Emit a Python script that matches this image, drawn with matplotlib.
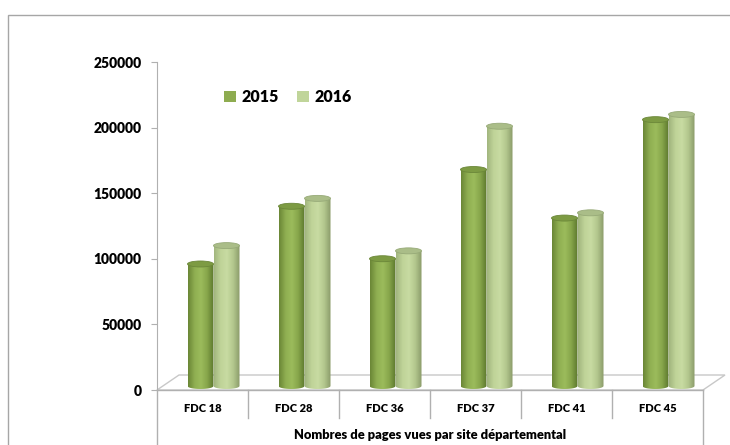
import numpy as np
import matplotlib.pyplot as plt
from matplotlib.patches import Ellipse, Polygon, Rectangle, Patch
from matplotlib.colors import LinearSegmentedColormap
import matplotlib.transforms as mtransforms

plt.rcParams['font.family'] = ['Lato', 'DejaVu Sans']
plt.rcParams['font.weight'] = 'heavy'

# data
categories = ["FDC 18", "FDC 28", "FDC 36", "FDC 37", "FDC 41", "FDC 45"]
years = ["2015", "2016"]
v2015 = [93000, 137000, 97000, 165000, 128000, 203000]
v2016 = [107000, 143000, 103000, 198000, 132000, 207000]
xlabel = "Nombres de pages vues par site départemental"

# layout in pixels
W, H = 730, 445
fig = plt.figure(figsize=(W / 100, H / 100), dpi=100)
ax_l, ax_r, ax_b, ax_t = 157, 703, 390, 62
ax = fig.add_axes([ax_l / W, (H - ax_b) / H, (ax_r - ax_l) / W, (ax_b - ax_t) / H])

ymax = 250000
px = ymax / (ax_b - ax_t)          # value units per pixel
cat_px = (ax_r - ax_l) / len(categories)
base = 4 * px                      # bars stand a bit behind the front edge
bar_w = 26 / cat_px
shift = 11 / cat_px

grad = {
    "2015": LinearSegmentedColormap.from_list("g1", ["#6a8636", "#8fae51", "#9cbc5c", "#86a54a", "#5c772d"]),
    "2016": LinearSegmentedColormap.from_list("g2", ["#a2b67e", "#bfd398", "#c8dba2", "#b3c78d", "#8a9b6a"]),
}
top_col = {"2015": "#7d9b43", "2016": "#aabd88"}
rim_col = {"2015": "#6b8739", "2016": "#97aa78"}
gradient = np.linspace(0, 1, 64).reshape(1, -1)

# floor
dx, dy = 22 / cat_px, 15 * px
floor = Polygon([(-0.5, 0), (-0.5 + dx, dy), (5.5 + dx, dy), (5.5, 0)],
                closed=True, facecolor="white", edgecolor="#c8c8c8", lw=1, clip_on=False, zorder=1)
ax.add_patch(floor)

eh = 6 * px
for j, (yr, vals) in enumerate([("2015", v2015), ("2016", v2016)]):
    for i, v in enumerate(vals):
        x0 = i + shift - bar_w + j * bar_w
        x1 = x0 + bar_w
        top = base + v
        im = ax.imshow(gradient, cmap=grad[yr], aspect="auto", extent=[x0, x1, base - eh / 2, top],
                       zorder=3 + j, interpolation="bilinear")
        verts = [(x0, top), (x0, base)]
        t = np.linspace(np.pi, 2 * np.pi, 20)
        verts += [((x0 + x1) / 2 + bar_w / 2 * np.cos(a), base + eh / 2 * np.sin(a)) for a in t]
        verts += [(x1, top), (x0, top)]
        clip = Polygon(verts, closed=True, transform=ax.transData, facecolor="none", edgecolor="none")
        ax.add_patch(clip)
        im.set_clip_path(clip)
        ax.add_patch(Ellipse(((x0 + x1) / 2, top), bar_w, eh, facecolor=top_col[yr],
                             edgecolor=rim_col[yr], lw=0.6, zorder=3 + j))

ax.set_xlim(-0.5, 5.5)
ax.set_ylim(0, ymax)
ax.set_yticks(np.arange(0, 250001, 50000))
ax.tick_params(axis="y", direction="out", length=4, color="#b0b0b0", pad=7, labelsize=10)
ax.set_xticks([])
for s in ["top", "right", "bottom"]:
    ax.spines[s].set_visible(False)
ax.spines["left"].set_color("#b0b0b0")
ax.patch.set_alpha(0)

# category axis with separators
trans = mtransforms.blended_transform_factory(ax.transData, ax.transAxes)
ax.plot([-0.5, 5.5], [0, 0], transform=trans, color="#b0b0b0", lw=1, clip_on=False, zorder=2)
for k in range(len(categories) + 1):
    low = -55 / (ax_b - ax_t) if k in (0, len(categories)) else -28 / (ax_b - ax_t)
    ax.plot([k - 0.5, k - 0.5], [0, low], transform=trans, color="#b0b0b0", lw=1, clip_on=False)
for i, c in enumerate(categories):
    ax.text(i, -18 / (ax_b - ax_t), c, transform=trans, ha="center", va="center", fontsize=8)
ax.text(2.5, -45 / (ax_b - ax_t), xlabel, transform=trans, ha="center", va="center", fontsize=9.3)

# legend
handles = [Patch(facecolor="#8eac50", label="2015"), Patch(facecolor="#c0d59a", label="2016")]
fig.legend(handles=handles, loc="center left", bbox_to_anchor=(210 / W, 1 - 97 / H), ncol=2,
           frameon=False, fontsize=11.5, handlelength=0.75, handleheight=0.75,
           handletextpad=0.35, columnspacing=1.1)

# outer border
fig.patches.append(Rectangle((8 / W, -0.01), 1.01 - 8 / W, 1 - 15 / H + 0.01,
                             transform=fig.transFigure, facecolor="none", edgecolor="#a6a6a6", lw=1))

fig.savefig("out.png", dpi=100)
